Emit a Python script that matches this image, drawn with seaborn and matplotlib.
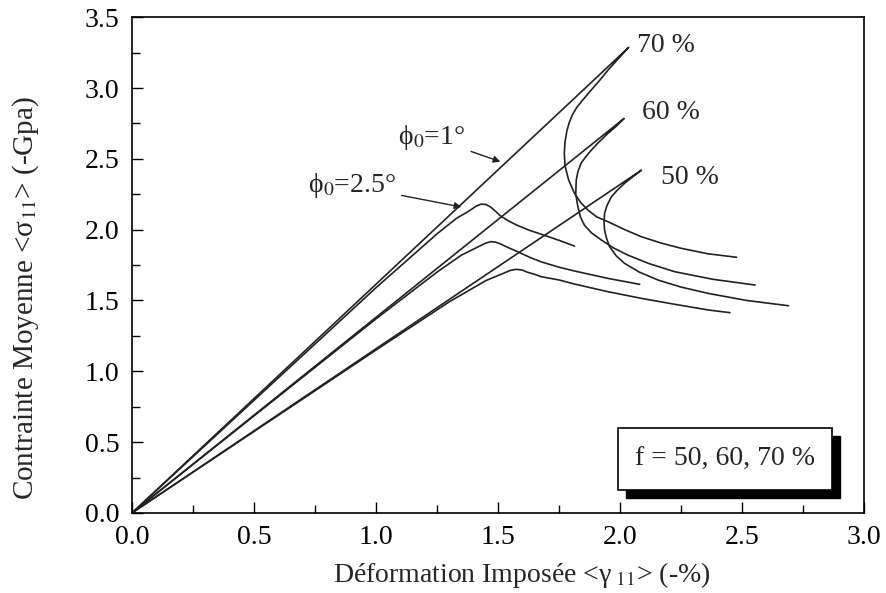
import pandas as pd
import seaborn as sns
import matplotlib.pyplot as plt
from matplotlib.ticker import MultipleLocator, FormatStrFormatter

# phi0 = 1 deg curves (loading line then snap-back branch)
x_p1_70 = [0.0, 2.036, 1.990, 1.951, 1.915, 1.882, 1.845, 1.822, 1.805, 1.793, 1.783, 1.775, 1.772,
           1.775, 1.790, 1.814, 1.840, 1.869, 1.905, 1.951, 2.020, 2.088, 2.170, 2.252, 2.360, 2.478]
y_p1_70 = [0.0, 3.287, 3.200, 3.126, 3.050, 2.985, 2.910, 2.860, 2.810, 2.760, 2.700, 2.620, 2.540,
           2.450, 2.350, 2.256, 2.190, 2.138, 2.090, 2.056, 2.000, 1.950, 1.905, 1.868, 1.830, 1.805]
x_p1_60 = [0.0, 2.017, 1.985, 1.951, 1.915, 1.882, 1.858, 1.841, 1.828, 1.821, 1.819, 1.828, 1.838,
           1.855, 1.885, 1.924, 1.975, 2.033, 2.120, 2.225, 2.380, 2.554]
y_p1_60 = [0.0, 2.785, 2.730, 2.680, 2.620, 2.560, 2.510, 2.470, 2.410, 2.350, 2.250, 2.160, 2.090,
           2.030, 1.975, 1.927, 1.870, 1.820, 1.760, 1.703, 1.650, 1.609]
x_p1_50 = [0.0, 2.088, 2.050, 2.019, 1.990, 1.965, 1.947, 1.937, 1.935, 1.937, 1.945, 1.958, 1.985,
           2.019, 2.080, 2.157, 2.250, 2.362, 2.520, 2.691]
y_p1_50 = [0.0, 2.420, 2.370, 2.327, 2.280, 2.232, 2.170, 2.115, 2.050, 1.997, 1.940, 1.879, 1.815,
           1.762, 1.700, 1.644, 1.595, 1.550, 1.500, 1.463]

# phi0 = 2.5 deg curves (rounded peak then softening)
x_p25_70 = [0.0, 1.00, 1.25, 1.33, 1.38, 1.41, 1.43, 1.45, 1.47, 1.49, 1.512, 1.545, 1.58, 1.63,
            1.677, 1.75, 1.814]
y_p25_70 = [0.0, 1.59, 1.97, 2.08, 2.13, 2.165, 2.18, 2.178, 2.16, 2.13, 2.095, 2.06, 2.03, 1.995,
            1.968, 1.925, 1.884]
x_p25_60 = [0.0, 1.00, 1.25, 1.35, 1.42, 1.45, 1.471, 1.49, 1.51, 1.54, 1.581, 1.63, 1.677, 1.75,
            1.814, 1.951, 2.081]
y_p25_60 = [0.0, 1.37, 1.70, 1.82, 1.88, 1.905, 1.915, 1.912, 1.90, 1.875, 1.844, 1.805, 1.773,
            1.735, 1.708, 1.656, 1.614]
x_p25_50 = [0.0, 1.00, 1.30, 1.45, 1.52, 1.55, 1.574, 1.60, 1.62, 1.65, 1.677, 1.75, 1.814, 1.951,
            2.088, 2.225, 2.362, 2.451]
y_p25_50 = [0.0, 1.15, 1.49, 1.64, 1.69, 1.712, 1.72, 1.715, 1.70, 1.685, 1.668, 1.645, 1.616,
            1.562, 1.515, 1.473, 1.433, 1.414]

curves = {
    'p1_70': (x_p1_70, y_p1_70), 'p1_60': (x_p1_60, y_p1_60), 'p1_50': (x_p1_50, y_p1_50),
    'p25_70': (x_p25_70, y_p25_70), 'p25_60': (x_p25_60, y_p25_60), 'p25_50': (x_p25_50, y_p25_50),
}
rows = []
for name, (xs, ys) in curves.items():
    for a, b in zip(xs, ys):
        rows.append({'curve': name, 'x': a, 'y': b})
df = pd.DataFrame(rows)

sns.set_theme(style='white')
plt.rcParams['font.family'] = ['Liberation Serif', 'DejaVu Serif']
plt.rcParams['mathtext.fontset'] = 'stix'

fig = plt.figure(figsize=(8.86, 5.93), dpi=100)
ax = fig.add_axes([0.149, 0.135, 0.826, 0.836])

sns.lineplot(data=df, x='x', y='y', units='curve', estimator=None, sort=False,
             color='#222222', linewidth=1.2, ax=ax)

ax.set_xlim(0, 3.0)
ax.set_ylim(0, 3.5)
ax.xaxis.set_major_locator(MultipleLocator(0.5))
ax.xaxis.set_minor_locator(MultipleLocator(0.25))
ax.yaxis.set_major_locator(MultipleLocator(0.5))
ax.yaxis.set_minor_locator(MultipleLocator(0.25))
ax.xaxis.set_major_formatter(FormatStrFormatter('%.1f'))
ax.yaxis.set_major_formatter(FormatStrFormatter('%.1f'))
ax.tick_params(which='both', direction='in', bottom=True, left=True, top=False, right=False,
               labelsize=20, colors='black', pad=9)
ax.tick_params(which='major', length=8, width=1)
ax.tick_params(which='minor', length=6, width=1)
for s in ax.spines.values():
    s.set_color('black')
    s.set_linewidth(1.2)

ax.set_xlabel('Déformation Imposée <γ$_{\\ 11}$> (-%)', fontsize=20)
ax.set_ylabel('Contrainte Moyenne <σ$_{11}$> (-Gpa)', fontsize=21)
ax.xaxis.set_label_coords(0.533, -0.095)
ax.yaxis.set_label_coords(-0.125, 0.433)

# percentage labels
ax.text(2.07, 3.30, '70 %', fontsize=20, va='center')
ax.text(2.09, 2.83, '60 %', fontsize=20, va='center')
ax.text(2.17, 2.37, '50 %', fontsize=20, va='center')

# phi0 annotations
ax.annotate('ϕ$_0$=1°', xy=(1.51, 2.48), xytext=(1.09, 2.65), fontsize=20, va='center',
            arrowprops=dict(arrowstyle='-|>', color='#222222', lw=1, mutation_scale=10,
                            shrinkA=2, shrinkB=0))
ax.annotate('ϕ$_0$=2.5°', xy=(1.35, 2.16), xytext=(0.72, 2.31), fontsize=20, va='center',
            arrowprops=dict(arrowstyle='-|>', color='#222222', lw=1, mutation_scale=10,
                            shrinkA=2, shrinkB=0))

# boxed note with shadow
ax.add_patch(plt.Rectangle((0.675, 0.031), 0.292, 0.125, transform=ax.transAxes,
                           facecolor='black', edgecolor='black', zorder=3))
ax.add_patch(plt.Rectangle((0.664, 0.046), 0.292, 0.125, transform=ax.transAxes,
                           facecolor='white', edgecolor='black', lw=1.2, zorder=4))
ax.text(0.81, 0.108, 'f = 50, 60, 70 %', transform=ax.transAxes, fontsize=20,
        ha='center', va='center', zorder=5)

plt.savefig('out.png', dpi=100)
